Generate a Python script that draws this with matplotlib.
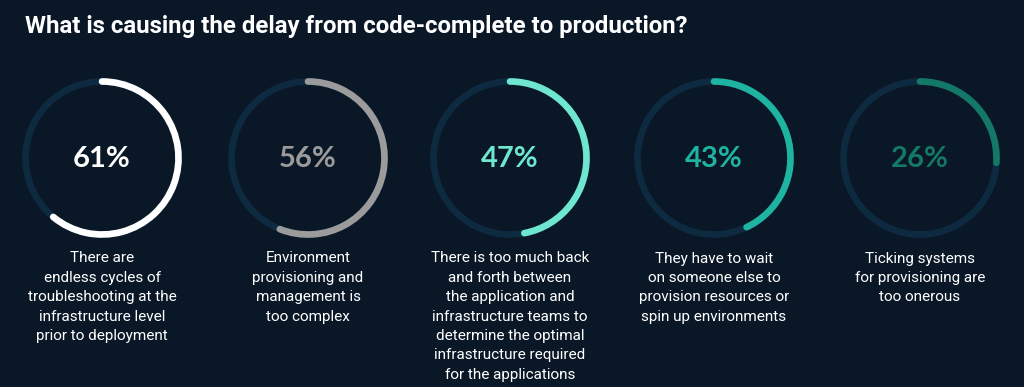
import numpy as np
import matplotlib.pyplot as plt
from matplotlib.patches import Arc, Circle

plt.rcParams['font.family'] = ['Roboto', 'DejaVu Sans']

title = "What is causing the delay from code-complete to production?"
values = [61, 56, 47, 43, 26]
labels = [
    "There are\nendless cycles of\ntroubleshooting at the\ninfrastructure level\nprior to deployment",
    "Environment\nprovisioning and\nmanagement is\ntoo complex",
    "There is too much back\nand forth between\nthe application and\ninfrastructure teams to\ndetermine the optimal\ninfrastructure required\nfor the applications",
    "They have to wait\non someone else to\nprovision resources or\nspin up environments",
    "Ticking systems\nfor provisioning are\ntoo onerous",
]
colors = ["#ffffff", "#9b9b9b", "#6ee6d0", "#1fb3a2", "#137868"]

bg = "#0a1727"
track = "#0e2a41"

fig = plt.figure(figsize=(10.24, 3.87), dpi=100, facecolor=bg)
ax = fig.add_axes([0, 0, 1, 1])
ax.set_facecolor(bg)
ax.set_xlim(0, 1024)
ax.set_ylim(387, 0)
ax.set_aspect('equal')
ax.axis('off')

ax.text(25, 26, title, color="white", fontsize=17.3, fontweight="bold",
        ha="left", va="center")

centers = [102, 308, 510, 714, 920]
cy = 158
r = 153
lw = 4.8

for cx, v, lab, c in zip(centers, values, labels, colors):
    ax.add_patch(Circle((cx, cy), r / 2, fill=False, ec=track, lw=lw))
    # y axis is inverted, so angles go clockwise on screen
    arc = Arc((cx, cy), r, r, angle=0, theta1=-90, theta2=-90 + 360 * v / 100,
              color=c, lw=lw, capstyle='round')
    ax.add_patch(arc)
    ax.text(cx, cy + 1, f"{v}%", color=c, fontsize=21, fontweight="bold",
            ha="center", va="center", family=["Lato", "DejaVu Sans"])
    ax.text(cx, 251.5, lab, color="white", fontsize=11, ha="center", va="top",
            linespacing=1.49)

fig.savefig("out.png", dpi=100, facecolor=bg)
